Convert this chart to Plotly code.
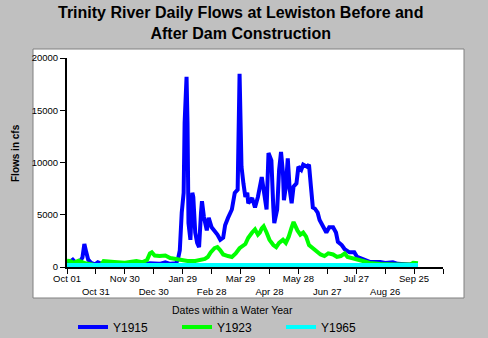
import plotly.graph_objects as go

# ---------------- data (day within water year, flow in cfs) ----------------
y1915_day = [0, 6, 9, 12, 16, 18, 20, 22, 25, 29, 32, 36, 45, 60, 76, 86, 96, 102, 107, 113,
             115, 117, 119, 121, 122, 124, 125, 126, 128, 130, 131, 133, 135, 137, 139, 140,
             142, 145, 147, 150, 156, 159, 162, 164, 167, 171, 174, 177, 179, 180, 181, 183,
             185, 187, 188, 192, 195, 198, 202, 203, 207, 209, 212, 214, 215, 218, 220, 222,
             224, 225, 227, 229, 231, 233, 235, 238, 240, 243, 245, 249, 251, 253, 255, 257,
             260, 262, 265, 269, 272, 276, 279, 281, 285, 288, 293, 298, 301, 306, 311, 314,
             325, 330, 338, 343, 355, 364]
y1915_cfs = [300, 700, 400, 350, 900, 2200, 1400, 700, 400, 250, 450, 300, 250, 300, 250, 350,
             300, 450, 300, 350, 700, 1600, 5200, 7100, 13800, 18200, 13800, 4200, 2600, 7100,
             6700, 3300, 2300, 1900, 5200, 6300, 4800, 3500, 4700, 3800, 3100, 2600, 2800, 4000,
             4700, 5500, 7100, 7400, 18500, 11900, 9600, 8000, 6700, 7100, 6100, 6600, 5700,
             6700, 8600, 8000, 5500, 10900, 10200, 5700, 4200, 5500, 9300, 11000, 9000, 6400,
             7700, 10400, 7400, 6100, 7700, 8000, 9600, 9300, 9800, 9600, 9800, 7700, 5700, 5600,
             5200, 4500, 4000, 3300, 3800, 3800, 3300, 2400, 2100, 1700, 1400, 1400, 960, 770,
             570, 480, 480, 380, 450, 300, 250, 250]

y1923_day = [0, 3, 7, 12, 19, 24, 31, 35, 38, 49, 60, 72, 78, 83, 86, 88, 91, 96, 102, 107,
             112, 119, 125, 133, 138, 143, 146, 149, 153, 156, 159, 162, 167, 171, 175, 179,
             185, 188, 192, 195, 198, 200, 202, 204, 207, 210, 214, 217, 220, 224, 227, 230,
             233, 235, 239, 242, 245, 248, 251, 254, 257, 260, 263, 267, 271, 276, 280, 284,
             288, 291, 296, 301, 307, 314, 325, 340, 356, 359, 364]
y1923_cfs = [600, 570, 400, 600, 350, 250, 150, 150, 570, 480, 400, 570, 450, 670, 1300, 1400,
             1100, 1050, 1100, 860, 770, 670, 570, 570, 670, 770, 960, 1400, 1800, 1900, 1600,
             1200, 1050, 960, 1300, 1800, 2200, 2800, 3300, 3600, 3100, 3300, 3700, 3900, 3300,
             2600, 2100, 1900, 2300, 2600, 2300, 2900, 3800, 4300, 3500, 3100, 3300, 2900, 2100,
             1900, 1600, 1400, 1200, 1050, 1300, 1200, 960, 1050, 1300, 960, 860, 670, 570, 380,
             280, 250, 250, 400, 350]

y1965_day = [0, 30, 60, 90, 120, 150, 180, 210, 240, 270, 300, 330, 364]
y1965_cfs = [200, 200, 190, 200, 200, 190, 200, 200, 190, 200, 200, 200, 200]

tick_days = [0, 30, 60, 90, 120, 150, 180, 210, 240, 270, 300, 330, 360, 390]
tick_names = ["Oct 01", "Oct 31", "Nov 30", "Dec 30", "Jan 29", "Feb 28", "Mar 29",
              "Apr 28", "May 28", "Jun 27", "Jul 27", "Aug 26", "Sep 25", ""]
y_ticks = [0, 5000, 10000, 15000, 20000]
y_tick_names = ["0", "5000", "10000", "15000", "20000"]

# ---------------- figure ----------------
FONT = "Liberation Sans, Arial, sans-serif"
W, H = 488, 338
L, R, T, B = 67, 45, 58, 71
PW, PH = W - L - R, H - T - B


def px_x(p):
    return (p - L) / PW


def px_y(p):
    return (H - B - p) / PH


fig = go.Figure()
fig.add_trace(go.Scatter(x=y1915_day, y=y1915_cfs, mode="lines", name="Y1915",
                         line=dict(color="#0000FF", width=4)))
fig.add_trace(go.Scatter(x=y1923_day, y=y1923_cfs, mode="lines", name="Y1923",
                         line=dict(color="#00FF00", width=4)))
fig.add_trace(go.Scatter(x=y1965_day, y=y1965_cfs, mode="lines", name="Y1965",
                         line=dict(color="#00FFFF", width=4)))

ticktext = [t if i % 2 == 0 else "<br>" + t for i, t in enumerate(tick_names)]

fig.update_layout(
    width=W, height=H,
    margin=dict(l=L, r=R, t=T, b=B, pad=0, autoexpand=False),
    paper_bgcolor="#C0C0C0",
    plot_bgcolor="white",
    font=dict(family=FONT, color="black", size=10),
    showlegend=True,
    legend=dict(orientation="h", x=px_x(73), y=px_y(327), xanchor="left", yanchor="middle",
                xref="paper", yref="paper", bgcolor="rgba(0,0,0,0)",
                font=dict(size=12, family=FONT), entrywidth=59, entrywidthmode="pixels",
                itemwidth=30),
    xaxis=dict(range=[0, 390], tickmode="array", tickvals=tick_days, ticktext=ticktext,
               tickangle=0, automargin=False, ticklabelstandoff=-3,
               showline=True, linecolor="black", linewidth=2, ticks="outside", ticklen=5,
               tickcolor="black", tickwidth=1, showgrid=False, zeroline=False,
               tickfont=dict(size=9.5), fixedrange=True),
    yaxis=dict(range=[0, 20000], tickmode="array", tickvals=y_ticks, ticktext=y_tick_names,
               automargin=False,
               showline=True, linecolor="black", linewidth=2, ticks="outside", ticklen=5,
               tickcolor="black", tickwidth=1, showgrid=False, zeroline=False,
               tickfont=dict(size=9.5), fixedrange=True),
    xaxis2=dict(range=[0, 390], overlaying="x", anchor="y", side="bottom", tickmode="array",
                tickvals=tick_days, ticks="inside", ticklen=4, tickcolor="black", tickwidth=1,
                showticklabels=False, showline=False, showgrid=False, zeroline=False),
    yaxis2=dict(range=[0, 20000], overlaying="y", anchor="x", side="left", tickmode="array",
                tickvals=y_ticks, ticks="inside", ticklen=4, tickcolor="black", tickwidth=1,
                showticklabels=False, showline=False, showgrid=False, zeroline=False),
    shapes=[dict(type="rect", xref="paper", yref="paper", layer="below",
                 x0=px_x(33), x1=px_x(464), y0=px_y(298), y1=px_y(49),
                 fillcolor="white", line=dict(color="#808080", width=1))],
    annotations=[
        dict(text="<b>Trinity River Daily Flows at Lewiston Before and<br>After Dam Construction</b>",
             xref="paper", yref="paper", x=px_x(240), y=px_y(23), xanchor="center",
             yanchor="middle", showarrow=False, font=dict(size=16, family=FONT)),
        dict(text="<b>Flows in cfs</b>", xref="paper", yref="paper", x=px_x(15), y=px_y(153),
             xanchor="center", yanchor="middle", textangle=-90, showarrow=False,
             font=dict(size=10, family=FONT)),
        dict(text="Dates within a Water Year", xref="paper", yref="paper", x=px_x(232),
             y=px_y(310), xanchor="center", yanchor="middle", showarrow=False,
             font=dict(size=10.5, family=FONT)),
    ],
)

fig.write_html("out.html")
